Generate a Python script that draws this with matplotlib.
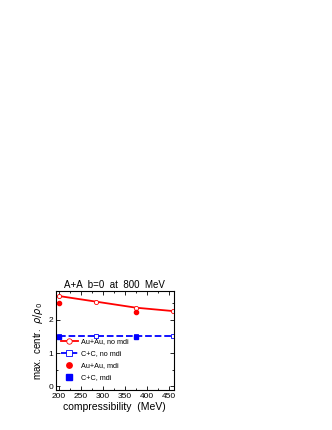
import matplotlib
matplotlib.use("Agg")
import matplotlib.pyplot as plt
from matplotlib.ticker import MultipleLocator

plt.rcParams["font.family"] = ["Liberation Sans", "DejaVu Sans"]

# compressibility values (MeV)
k_nomdi = [200, 285, 375, 458]
k_mdi = [200, 375]

# max central density rho/rho0
auau_nomdi = [2.71, 2.54, 2.36, 2.26]
cc_nomdi = [1.52, 1.52, 1.52, 1.52]
auau_mdi = [2.50, 2.23]
cc_mdi = [1.47, 1.47]

fig = plt.figure(figsize=(3.32, 4.30), dpi=100)
ax = fig.add_axes([0.168, 0.092, 0.356, 0.232])

ax.plot(k_nomdi, auau_nomdi, "-", color="red", lw=1.3, marker="o", ms=3,
        mfc="white", mec="red", mew=0.6, label="Au+Au, no mdi")
ax.plot(k_nomdi, cc_nomdi, "--", color="blue", lw=1.3, marker="s", ms=3,
        mfc="white", mec="blue", mew=0.6, label="C+C, no mdi")
ax.plot(k_mdi, auau_mdi, "o", color="red", ms=3, label="Au+Au, mdi")
ax.plot(k_mdi, cc_mdi, "s", color="blue", ms=3, label="C+C, mdi")

ax.set_xlim(193, 461)
ax.set_ylim(-0.12, 2.87)
ax.xaxis.set_major_locator(MultipleLocator(50))
ax.xaxis.set_minor_locator(MultipleLocator(25))
ax.yaxis.set_major_locator(MultipleLocator(1))
ax.yaxis.set_minor_locator(MultipleLocator(0.5))
ax.tick_params(which="both", direction="in", top=True, right=True,
               labelsize=6, width=0.6, pad=2)
ax.tick_params(which="major", length=3)
ax.tick_params(which="minor", length=1.5)
for s in ax.spines.values():
    s.set_linewidth(0.8)

ax.set_title("A+A  b=0  at  800  MeV", fontsize=7, pad=2)
ax.set_xlabel("compressibility  (MeV)", fontsize=7.5, labelpad=1)
ax.set_ylabel(r"max.  centr.  $\rho/\rho_0$", fontsize=7, labelpad=2)

ax.legend(loc="lower left", bbox_to_anchor=(0.0, 0.04), frameon=False,
          fontsize=5.2, handlelength=2.4, handletextpad=0.4, labelspacing=0.7,
          borderaxespad=0.3, markerscale=1.3)

fig.savefig("out.png", dpi=100)
